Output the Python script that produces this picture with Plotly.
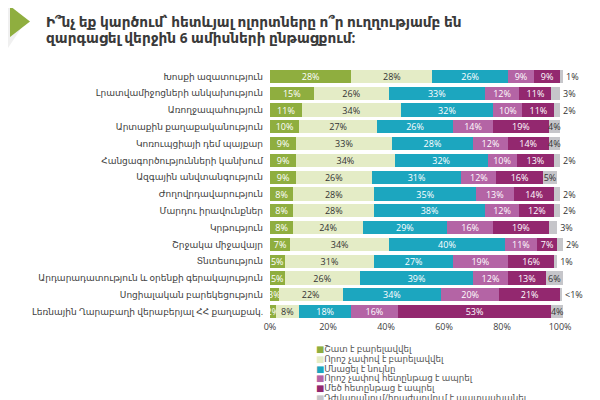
import plotly.graph_objects as go

# Datos (porcentajes)
categories = [
    "Խոսքի ազատություն",
    "Լրատվամիջոցների անկախություն",
    "Առողջապահություն",
    "Արտաքին քաղաքականություն",
    "Կոռուպցիայի դեմ պայքար",
    "Հանցագործությունների կանխում",
    "Ազգային անվտանգություն",
    "Ժողովրդավարություն",
    "Մարդու իրավունքներ",
    "Կրթություն",
    "Շրջակա միջավայր",
    "Տնտեսություն",
    "Արդարադատություն և օրենքի գերակայություն",
    "Սոցիալական բարեկեցություն",
    "Լեռնային Ղարաբաղի վերաբերյալ ՀՀ քաղաքակ.",
]
much_better = [28, 15, 11, 10, 9, 9, 9, 8, 8, 8, 7, 5, 5, 3, 2]
bit_better = [28, 26, 34, 27, 33, 34, 26, 28, 28, 24, 34, 31, 26, 22, 8]
same = [26, 33, 32, 26, 28, 32, 31, 35, 38, 29, 40, 27, 39, 34, 18]
bit_worse = [9, 12, 10, 14, 12, 10, 12, 13, 12, 16, 11, 19, 12, 20, 16]
much_worse = [9, 11, 11, 19, 14, 13, 16, 14, 12, 19, 7, 16, 13, 21, 53]
dont_know = [1, 3, 2, 4, 4, 2, 5, 2, 2, 3, 2, 1, 6, 0.5, 4]
dont_know_text = ["1%", "3%", "2%", "4%", "4%", "2%", "5%", "2%", "2%", "3%", "2%", "1%", "6%", "<1%", "4%"]

series_names = [
    "Շատ է բարելավվել",
    "Որոշ չափով է բարելավվել",
    "Մնացել է նույնը",
    "Որոշ չափով հետընթաց է ապրել",
    "Մեծ հետընթաց է ապրել",
    "Դժվարանում/հրաժարվում է պատասխանել",
]
title_lines = [
    "Ի՞նչ եք կարծում՝ հետևյալ ոլորտները ո՞ր ուղղությամբ են",
    "զարգացել վերջին 6 ամիսների ընթացքում:",
]
tick_vals = [0, 20, 40, 60, 80, 100]
tick_text = ["0%", "20%", "40%", "60%", "80%", "100%"]

colors = ["#8fae3f", "#e4ecc6", "#1ca6bf", "#b464a5", "#93286f", "#c6c6ca"]
text_colors = ["#ffffff", "#333333", "#ffffff", "#ffffff", "#ffffff", "#333333"]

FONT = "Open Sans, DejaVu Sans, sans-serif"

fig = go.Figure()
all_values = [much_better, bit_better, same, bit_worse, much_worse, dont_know]
for i, vals in enumerate(all_values):
    if i == 5:
        txt = dont_know_text
        pos = ["inside" if v >= 4 else "outside" for v in vals]
    else:
        txt = [f"{v}%" for v in vals]
        pos = "inside"
    fig.add_trace(go.Bar(
        y=categories,
        x=vals,
        orientation="h",
        name=series_names[i],
        marker=dict(color=colors[i], line=dict(width=0)),
        text=txt,
        textposition=pos,
        textangle=0,
        insidetextanchor="middle",
        constraintext="none",
        cliponaxis=False,
        insidetextfont=dict(family=FONT, size=9, color=text_colors[i]),
        outsidetextfont=dict(family=FONT, size=9, color="#333333"),
        hoverinfo="skip",
        showlegend=False,
    ))

# la página tiene 8px de margen: coordenadas de página -> papel
px_to_y = lambda py: (320 - py) / 252
px_to_x = lambda px: (px - 270) / 293

# Leyenda dibujada como texto (filas compactas como en la imagen)
annotations = []
for i, name in enumerate(series_names):
    annotations.append(dict(
        xref="paper", yref="paper",
        x=px_to_x(314), y=px_to_y(349 + 9.8 * i),
        xanchor="left", yanchor="middle",
        text=f'<span style="color:{colors[i]}">■</span>{name}',
        showarrow=False,
        font=dict(family=FONT, size=8.7, color="#555555"),
    ))

# Título en dos líneas
for i, line in enumerate(title_lines):
    annotations.append(dict(
        xref="paper", yref="paper",
        x=px_to_x(44), y=px_to_y(22 + 16 * i),
        xanchor="left", yanchor="middle",
        text=f"<b>{line}</b>",
        showarrow=False,
        font=dict(family=FONT, size=13.7, color="#3a3a3a"),
    ))

# Triángulo verde del encabezado
tri = dict(
    type="path", xref="paper", yref="paper",
    path=f"M {px_to_x(10)} {px_to_y(6)} L {px_to_x(10)} {px_to_y(37)} L {px_to_x(30)} {px_to_y(21.5)} Z",
    fillcolor="#8fae3f", line=dict(width=0),
)
chev = dict(
    type="path", xref="paper", yref="paper",
    path=f"M {px_to_x(0)} {px_to_y(0)} L {px_to_x(8)} {px_to_y(0)} L {px_to_x(24)} {px_to_y(24)} L {px_to_x(8)} {px_to_y(48)} L {px_to_x(0)} {px_to_y(48)} Z",
    fillcolor="#f0f0f0", line=dict(width=0), layer="below",
)

fig.update_layout(
    barmode="stack",
    bargap=0.22,
    width=592, height=392,
    margin=dict(l=262, r=37, t=60, b=80),
    paper_bgcolor="white",
    plot_bgcolor="white",
    font=dict(family=FONT, size=9, color="#404040"),
    annotations=annotations,
    shapes=[chev, tri],
    xaxis=dict(
        range=[0, 101], tickvals=tick_vals, ticktext=tick_text,
        showgrid=False, zeroline=False, showline=False,
        tickfont=dict(family=FONT, size=9, color="#404040"),
        fixedrange=True,
    ),
    yaxis=dict(
        autorange="reversed", showgrid=False, showline=False,
        ticks="", ticklabelstandoff=6,
        tickfont=dict(family=FONT, size=9, color="#404040"),
    ),
)

fig.write_html("out.html")
